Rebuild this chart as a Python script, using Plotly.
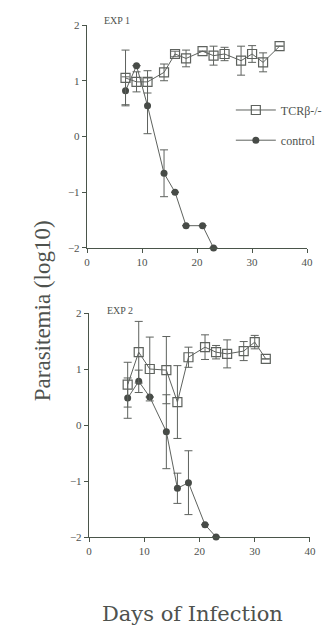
import plotly.graph_objects as go
from plotly.subplots import make_subplots

# ---- data ----
days_tcr1 = [7, 9, 11, 14, 16, 18, 21, 23, 25, 28, 30, 32, 35]
tcr1 = [1.05, 0.98, 0.98, 1.15, 1.48, 1.40, 1.53, 1.45, 1.48, 1.36, 1.48, 1.33, 1.62]
tcr1_err = [0.50, 0.18, 0.20, 0.15, 0.05, 0.15, 0.0, 0.17, 0.12, 0.26, 0.15, 0.17, 0.0]

days_ctl1 = [7, 9, 11, 14, 16, 18, 21, 23]
ctl1 = [0.82, 1.27, 0.55, -0.66, -1.00, -1.60, -1.60, -2.00]
ctl1_err = [0.25, 0.0, 0.50, 0.42, 0.0, 0.0, 0.0, 0.0]

days_tcr2 = [7, 9, 11, 14, 16, 18, 21, 23, 25, 28, 30, 32]
tcr2 = [0.72, 1.30, 1.00, 0.98, 0.41, 1.21, 1.39, 1.30, 1.27, 1.32, 1.48, 1.18]
tcr2_err = [0.40, 0.55, 0.57, 0.60, 0.65, 0.18, 0.22, 0.12, 0.25, 0.17, 0.12, 0.0]

days_ctl2 = [7, 9, 11, 14, 16, 18, 21, 23]
ctl2 = [0.48, 0.78, 0.50, -0.12, -1.13, -1.03, -1.78, -2.00]
ctl2_err = [0.36, 0.20, 0.0, 0.66, 0.27, 0.57, 0.0, 0.0]

x_ticks = [0, 10, 20, 30, 40]
y_ticks = [-2, -1, 0, 1, 2]
panel_titles = ["EXP 1", "EXP 2"]
name_tcr = "TCRβ-/-"
name_ctl = "control"

INK = "#4e524e"
LINE = "#5e625e"
AXIS = "#4a554a"
FONT = "Liberation Serif"

fig = make_subplots(rows=2, cols=1, shared_xaxes=False, vertical_spacing=0.12)

def add_panel(row, dt, vt, et, dc, vc, ec, show):
    fig.add_trace(go.Scatter(
        x=dc, y=vc, mode="lines+markers", name=name_ctl,
        line=dict(color=LINE, width=1),
        marker=dict(symbol="circle", size=7, color="#474b47"),
        error_y=dict(type="data", array=ec, color=LINE, thickness=1, width=4),
        showlegend=show, legend="legend2", cliponaxis=False,
    ), row=row, col=1)
    fig.add_trace(go.Scatter(
        x=dt, y=vt, mode="lines+markers", name=name_tcr,
        line=dict(color=LINE, width=1),
        marker=dict(symbol="square-open", size=9, color=LINE, line=dict(width=1.2)),
        error_y=dict(type="data", array=et, color=LINE, thickness=1, width=4),
        showlegend=show, legend="legend", cliponaxis=False,
    ), row=row, col=1)

add_panel(1, days_tcr1, tcr1, tcr1_err, days_ctl1, ctl1, ctl1_err, True)
add_panel(2, days_tcr2, tcr2, tcr2_err, days_ctl2, ctl2, ctl2_err, False)

axis_common = dict(showline=True, linecolor=AXIS, linewidth=1.4, ticks="outside",
                   ticklen=4, tickcolor=AXIS, showgrid=False, zeroline=False,
                   tickfont=dict(family=FONT, size=11, color=INK))

fig.update_xaxes(range=[0, 40], tickvals=x_ticks, **axis_common)
fig.update_yaxes(range=[-2, 2], tickvals=y_ticks, **axis_common)

fig.update_layout(
    width=324, height=620,
    margin=dict(l=79, r=22, t=17, b=91, autoexpand=False),
    paper_bgcolor="white", plot_bgcolor="white",
    xaxis=dict(domain=[0, 0.987]),
    xaxis2=dict(domain=[0.009, 1]),
    yaxis=dict(domain=[0.5645, 1.0]),
    yaxis2=dict(domain=[0.0, 0.4375]),
    legend=dict(x=0.645, y=0.834, xanchor="left", yanchor="middle", itemwidth=40,
                bgcolor="rgba(0,0,0,0)", font=dict(family=FONT, size=12, color=INK)),
    legend2=dict(x=0.645, y=0.775, xanchor="left", yanchor="middle", itemwidth=40,
                 bgcolor="rgba(0,0,0,0)", font=dict(family=FONT, size=12, color=INK)),
    font=dict(family=FONT, color=INK),
)

fig.add_annotation(text=panel_titles[0], xref="x", yref="paper", x=5.5, y=1.0,
                   yshift=5, yanchor="middle", showarrow=False,
                   font=dict(family=FONT, size=10, color=INK), xanchor="center")
fig.add_annotation(text=panel_titles[1], xref="x2", yref="paper", x=5.6, y=0.4375,
                   yshift=3, yanchor="middle", showarrow=False,
                   font=dict(family=FONT, size=10, color=INK), xanchor="center")
fig.add_annotation(text="Parasitemia (log10)", xref="paper", yref="paper",
                   x=0, xshift=-45, y=0.441, textangle=-90, showarrow=False,
                   xanchor="center", yanchor="middle",
                   font=dict(family=FONT, size=23, color=INK))
fig.add_annotation(text="Days of Infection", xref="paper", yref="paper",
                   x=0.471, y=0, yshift=-77, showarrow=False,
                   xanchor="center", yanchor="middle",
                   font=dict(family="DejaVu Serif", size=21, color=INK))

fig.write_html("out.html")
